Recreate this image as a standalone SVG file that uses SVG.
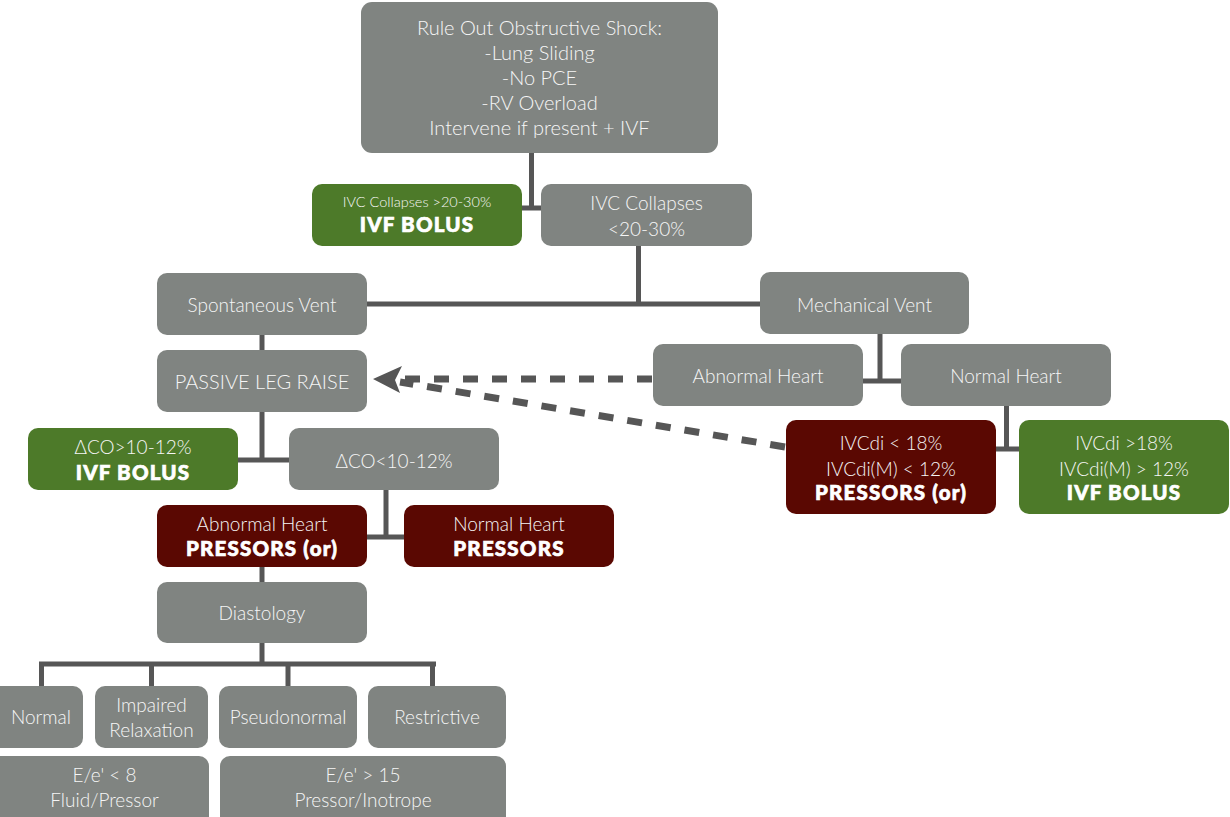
<svg xmlns="http://www.w3.org/2000/svg" width="1230" height="817" viewBox="0 0 1230 817">
<defs>
<style>
.g{fill:#808481}
.gr{fill:#4d7a29}
.rd{fill:#5a0802}
.t{font-family:Lato,"Liberation Sans",sans-serif;font-weight:300;font-size:19px;fill:#f6f6f6;text-anchor:middle}
.l{font-size:20px}
.s{font-size:14.5px}
.b{font-family:Lato,"Liberation Sans",sans-serif;font-weight:900;font-size:20.5px;fill:#ffffff;stroke:#ffffff;stroke-width:0.7;letter-spacing:1.2px;text-anchor:middle}
.c{stroke:#565656;stroke-width:5;fill:none}
.d{stroke:#565656;stroke-width:7;fill:none;stroke-dasharray:15 14}
.ah{fill:#565656}
</style>
</defs>
<g id="connectors">
<path class="c" d="M531.5,153 V208 M522,208 H542"/>
<path class="c" d="M638.5,246 V304 M367,304 H761"/>
<path class="c" d="M262,335 V350"/>
<path class="c" d="M880,334 V381 M863,381 H902"/>
<path class="c" d="M1006.5,406 V449 M996,449 H1019"/>
<path class="c" d="M262,412 V460 M238,460 H290"/>
<path class="c" d="M386,490 V537 M367,537 H405"/>
<path class="c" d="M262,567 V582"/>
<path class="c" d="M262,643 V664 M39,664 H436 M41.5,662 V687 M151.5,662 V687 M288,662 V687 M432.5,662 V687"/>
<path class="d" d="M652,379 H398"/>
<path class="d" d="M785,447 L400,382"/>
<path class="ah" d="M373,379 L402,366 L395,380 L400,393 Z"/>
</g>
<g id="n-top"><rect class="g" x="361" y="2" width="357" height="151" rx="11"/>
<text class="t l" x="539.5" y="35">Rule Out Obstructive Shock:</text>
<text class="t l" x="539.5" y="60">-Lung Sliding</text>
<text class="t l" x="539.5" y="85">-No PCE</text>
<text class="t l" x="539.5" y="110">-RV Overload</text>
<text class="t l" x="539.5" y="135">Intervene if present + IVF</text></g>
<g id="n-ivc-gt"><rect class="gr" x="312" y="184" width="210" height="62" rx="10"/>
<text class="t s" x="417" y="207">IVC Collapses &gt;20-30%</text>
<text class="b" x="417" y="232">IVF BOLUS</text></g>
<g id="n-ivc-lt"><rect class="g" x="541" y="184" width="211" height="62" rx="10"/>
<text class="t" x="646.5" y="210">IVC Collapses</text>
<text class="t" x="646.5" y="236">&lt;20-30%</text></g>
<g id="n-spont"><rect class="g" x="157" y="273" width="210" height="62" rx="10"/>
<text class="t" x="262" y="312">Spontaneous Vent</text></g>
<g id="n-mech"><rect class="g" x="760" y="272" width="209" height="62" rx="10"/>
<text class="t" x="864.5" y="312">Mechanical Vent</text></g>
<g id="n-plr"><rect class="g" x="157" y="350" width="210" height="62" rx="10"/>
<text class="t l" x="262" y="389">PASSIVE LEG RAISE</text></g>
<g id="n-abn-r"><rect class="g" x="653" y="344" width="210" height="62" rx="10"/>
<text class="t" x="758" y="383">Abnormal Heart</text></g>
<g id="n-norm-r"><rect class="g" x="901" y="344" width="210" height="62" rx="10"/>
<text class="t" x="1006" y="383">Normal Heart</text></g>
<g id="n-ivcdi-lt"><rect class="rd" x="786" y="420" width="210" height="94" rx="10"/>
<text class="t" x="891" y="450">IVCdi &lt; 18%</text>
<text class="t" x="891" y="476">IVCdi(M) &lt; 12%</text>
<text class="b" x="891" y="500">PRESSORS (or)</text></g>
<g id="n-ivcdi-gt"><rect class="gr" x="1019" y="420" width="210" height="94" rx="10"/>
<text class="t" x="1124" y="450">IVCdi &gt;18%</text>
<text class="t" x="1124" y="476">IVCdi(M) &gt; 12%</text>
<text class="b" x="1124" y="500">IVF BOLUS</text></g>
<g id="n-dco-gt"><rect class="gr" x="28" y="428" width="210" height="62" rx="10"/>
<text class="t" x="133" y="454">ΔCO&gt;10-12%</text>
<text class="b" x="133" y="480">IVF BOLUS</text></g>
<g id="n-dco-lt"><rect class="g" x="289" y="428" width="210" height="62" rx="10"/>
<text class="t" x="394" y="468">ΔCO&lt;10-12%</text></g>
<g id="n-abn-l"><rect class="rd" x="157" y="505" width="210" height="62" rx="10"/>
<text class="t" x="262" y="531">Abnormal Heart</text>
<text class="b" x="262" y="556">PRESSORS (or)</text></g>
<g id="n-norm-l"><rect class="rd" x="404" y="505" width="210" height="62" rx="10"/>
<text class="t" x="509" y="531">Normal Heart</text>
<text class="b" x="509" y="556">PRESSORS</text></g>
<g id="n-diast"><rect class="g" x="157" y="582" width="210" height="61" rx="10"/>
<text class="t" x="262" y="620">Diastology</text></g>
<g id="n-normal"><rect class="g" x="-10" y="686" width="93" height="62" rx="10"/>
<text class="t" x="41" y="724">Normal</text></g>
<g id="n-impaired"><rect class="g" x="95" y="686" width="113" height="62" rx="10"/>
<text class="t" x="151.5" y="712">Impaired</text>
<text class="t" x="151.5" y="737">Relaxation</text></g>
<g id="n-pseudo"><rect class="g" x="219" y="686" width="138" height="62" rx="10"/>
<text class="t" x="288" y="724">Pseudonormal</text></g>
<g id="n-restrict"><rect class="g" x="368" y="686" width="138" height="62" rx="10"/>
<text class="t" x="437" y="724">Restrictive</text></g>
<g id="n-ee8"><rect class="g" x="-10" y="756" width="219" height="72" rx="10"/>
<text class="t" x="104.5" y="782">E/e' &lt; 8</text>
<text class="t" x="104.5" y="807">Fluid/Pressor</text></g>
<g id="n-ee15"><rect class="g" x="220" y="756" width="286" height="72" rx="10"/>
<text class="t" x="363" y="782">E/e' &gt; 15</text>
<text class="t" x="363" y="807">Pressor/Inotrope</text></g>
</svg>
